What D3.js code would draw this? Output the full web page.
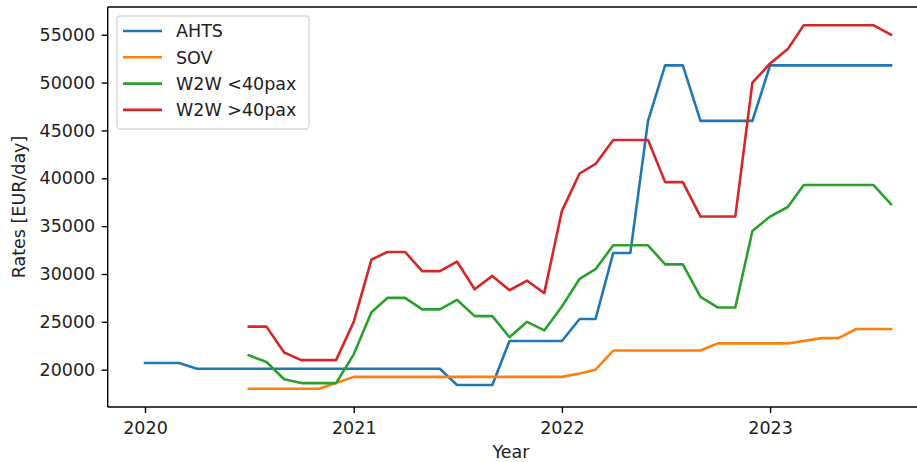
<!DOCTYPE html>
<html>
<head>
<meta charset="utf-8">
<script src="https://cdn.jsdelivr.net/npm/d3@7"></script>
<style>
  body { margin: 0; background: #fff; }
  svg { display: block; font-family: "DejaVu Sans", sans-serif; }
</style>
</head>
<body>
<script>
// monthly data, Jan 2020 .. Aug 2023
let months = d3.range(44).map((i) => new Date(2020, i, 1));

let seriesNames = ["AHTS", "SOV", "W2W <40pax", "W2W >40pax"];

let ahts = [20700, 20700, 20700,
  20100, 20100, 20100, 20100, 20100, 20100, 20100, 20100, 20100, 20100, 20100, 20100, 20100, 20100, 20100,
  18400, 18400, 18400,
  23000, 23000, 23000, 23000,
  25300, 25300, 32200, 32200, 46000, 51800, 51800,
  46000, 46000, 46000, 46000,
  51800, 51800, 51800, 51800, 51800, 51800, 51800, 51800];

let sov = [null, null, null, null, null, null,
  18000, 18000, 18000, 18000, 18000, 18600,
  19250, 19250, 19250, 19250, 19250, 19250, 19250, 19250, 19250, 19250, 19250, 19250, 19250,
  19600, 20000,
  22000, 22000, 22000, 22000, 22000, 22000,
  22750, 22750, 22750, 22750, 22750,
  23000, 23300, 23300, 24250, 24250, 24250];

let w2wSmall = [null, null, null, null, null, null,
  21500, 20800, 19000, 18600, 18600, 18600,
  21600, 26000, 27500, 27500, 26300, 26300, 27300, 25600, 25600, 23400, 25000, 24100,
  26600, 29500, 30500, 33000, 33000, 33000, 31000, 31000, 27600, 26500, 26500, 34500,
  36000, 37000, 39300, 39300, 39300, 39300, 39300, 37300];

let w2wLarge = [null, null, null, null, null, null,
  24500, 24500, 21800, 21000, 21000, 21000,
  25000, 31500, 32300, 32300, 30300, 30300, 31300, 28400, 29800, 28300, 29300, 28000,
  36600, 40500, 41500, 44000, 44000, 44000, 39600, 39600, 36000, 36000, 36000, 50000,
  52000, 53500, 56000, 56000, 56000, 56000, 56000, 55000];

let yTicks = [20000, 25000, 30000, 35000, 40000, 45000, 50000, 55000];
let xTicks = [2020, 2021, 2022, 2023];

let seriesValues = [ahts, sov, w2wSmall, w2wLarge];
let color = d3.scaleOrdinal(seriesNames, ["#1f77b4", "#ff7f0e", "#2ca02c", "#d62728"]);

let width = 917, height = 462;
let fs = 17.5;

let svg = d3.select("body").append("svg")
    .attr("width", width)
    .attr("height", height);

// x scale: matplotlib-like 5% margins on the date range
let t0 = months[0], t1 = months[months.length - 1];
let pad = (t1 - t0) * 0.05;
let pxPerMs = (145 - 107.7) / pad;
let x = d3.scaleTime()
    .domain([new Date(+t0 - pad), new Date(+t1 + pad)])
    .range([107.7, 107.7 + ((+t1 - +t0) + 2 * pad) * pxPerMs]);

let yMin = 18000, yMax = 56000, yPad = (yMax - yMin) * 0.05;
let y = d3.scaleLinear()
    .domain([yMin - yPad, yMax + yPad])
    .range([407, 7]);

let left = x.range()[0], right = x.range()[1];

// lines
let line = d3.line()
    .defined((d) => d != null)
    .x((d, i) => x(months[i]))
    .y((d) => y(d));

svg.append("g")
    .selectAll("path")
    .data(seriesValues)
    .enter().append("path")
    .attr("d", line)
    .attr("fill", "none")
    .attr("stroke", (d, i) => color(seriesNames[i]))
    .attr("stroke-width", 2.6)
    .attr("stroke-linejoin", "round")
    .attr("stroke-linecap", "square");

// axes
let xAxis = svg.append("g")
    .attr("transform", "translate(0,407)")
    .call(d3.axisBottom(x)
        .tickValues(xTicks.map((yr) => new Date(yr, 0, 1)))
        .tickFormat(d3.timeFormat("%Y"))
        .tickSize(6)
        .tickPadding(8.5)
        .tickSizeOuter(0));

let yAxis = svg.append("g")
    .attr("transform", "translate(" + left + ",0)")
    .call(d3.axisLeft(y)
        .tickValues(yTicks)
        .tickFormat(d3.format("d"))
        .tickSize(6)
        .tickPadding(6.5)
        .tickSizeOuter(0));

svg.selectAll(".domain").remove();
[xAxis, yAxis].forEach((a) => {
    a.selectAll("line").attr("stroke", "#000").attr("stroke-width", 1.4);
    a.selectAll("text")
        .attr("font-family", "DejaVu Sans, sans-serif")
        .attr("font-size", fs)
        .attr("fill", "#222");
});

// spines
let spines = svg.append("g")
    .attr("stroke", "#000")
    .attr("stroke-width", 1.4)
    .attr("fill", "none");
spines.append("line").attr("x1", left).attr("x2", left).attr("y1", 7).attr("y2", 407);
spines.append("line").attr("x1", left).attr("x2", right).attr("y1", 407).attr("y2", 407);
spines.append("line").attr("x1", left).attr("x2", right).attr("y1", 7).attr("y2", 7);
spines.append("line").attr("x1", right).attr("x2", right).attr("y1", 7).attr("y2", 407);

// axis labels
svg.append("text")
    .attr("x", (left + right) / 2 - 7)
    .attr("y", 458)
    .attr("text-anchor", "middle")
    .attr("font-size", fs)
    .attr("fill", "#222")
    .text("Year");

svg.append("text")
    .attr("transform", "translate(25,207) rotate(-90)")
    .attr("text-anchor", "middle")
    .attr("font-size", fs)
    .attr("fill", "#222")
    .text("Rates [EUR/day]");

// legend
let legend = svg.append("g").attr("transform", "translate(117,16)");
legend.append("rect")
    .attr("width", 192)
    .attr("height", 113)
    .attr("rx", 3.5)
    .attr("fill", "#fff")
    .attr("fill-opacity", 0.8)
    .attr("stroke", "#d6d6d6")
    .attr("stroke-width", 1.4);

let item = legend.selectAll(".item")
    .data(seriesNames)
    .enter().append("g")
    .attr("class", "item")
    .attr("transform", (d, i) => "translate(0," + (15 + i * 26.3) + ")");

item.append("line")
    .attr("x1", 6).attr("x2", 45)
    .attr("stroke", (d) => color(d))
    .attr("stroke-width", 2.6);

item.append("text")
    .attr("x", 59)
    .attr("dy", "0.36em")
    .attr("font-size", fs)
    .attr("fill", "#222")
    .text((d) => d);
</script>
</body>
</html>
